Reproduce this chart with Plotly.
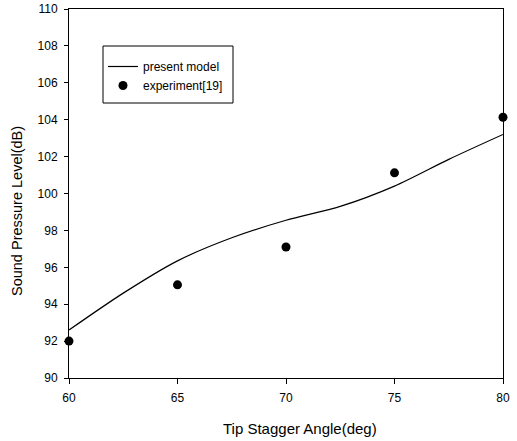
import plotly.graph_objects as go

# Data
model_angle = [60, 62.5, 65, 67.5, 70, 72.5, 75, 77.5, 80]
model_spl = [92.6, 94.6, 96.35, 97.6, 98.55, 99.3, 100.4, 101.85, 103.2]
exp_angle = [60, 65, 70, 75, 80]
exp_spl = [92.0, 95.05, 97.1, 101.12, 104.13]

x_ticks = [60, 65, 70, 75, 80]
y_ticks = [90, 92, 94, 96, 98, 100, 102, 104, 106, 108, 110]

FONT = "Liberation Sans, Arial, sans-serif"
W, H = 517, 441
L, R, T, B = 69, 14, 9, 63

fig = go.Figure()
fig.add_trace(go.Scatter(
    x=model_angle, y=model_spl, mode="lines", name="present model",
    line=dict(color="black", width=1.2, shape="spline", smoothing=0.8),
))
fig.add_trace(go.Scatter(
    x=exp_angle, y=exp_spl, mode="markers", name="experiment[19]",
    marker=dict(color="black", size=9, symbol="circle"),
    cliponaxis=False,
))

ph = H - T - B
pw = W - L - R


def px_x(p):
    return (p - L) / pw


def px_y(p):
    return (H - B - p) / ph


fig.update_layout(
    width=W, height=H,
    margin=dict(l=L, r=R, t=T, b=B, autoexpand=False),
    paper_bgcolor="white", plot_bgcolor="white",
    font=dict(family=FONT, size=12, color="black"),
    showlegend=True,
    legend=dict(
        x=px_x(103), y=px_y(52), xanchor="left", yanchor="top",
        bgcolor="rgba(0,0,0,0)", borderwidth=0,
        font=dict(family=FONT, size=12, color="black"),
    ),
    shapes=[
        dict(type="rect", xref="paper", yref="paper",
             x0=px_x(103), x1=px_x(233), y0=px_y(103), y1=px_y(46),
             line=dict(color="black", width=1), fillcolor="rgba(0,0,0,0)", layer="above"),
    ],
    xaxis=dict(
        range=[60, 80], tickvals=x_ticks, ticktext=[str(v) for v in x_ticks],
        showgrid=False, zeroline=False, automargin=False,
        showline=True, linecolor="black", linewidth=1, mirror=True,
        ticks="outside", ticklen=5, tickcolor="black",
        tickfont=dict(family=FONT, size=12), ticklabelstandoff=4,
    ),
    yaxis=dict(
        range=[90, 110], tickvals=y_ticks, ticktext=[str(v) for v in y_ticks],
        showgrid=False, zeroline=False, automargin=False,
        showline=True, linecolor="black", linewidth=1, mirror=True,
        ticks="outside", ticklen=4, tickcolor="black",
        tickfont=dict(family=FONT, size=12), ticklabelstandoff=4,
    ),
    annotations=[
        dict(text="Tip Stagger Angle(deg)", xref="paper", yref="paper",
             x=px_x(300), y=px_y(428), xanchor="center", yanchor="middle",
             showarrow=False, font=dict(family=FONT, size=15)),
        dict(text="Sound Pressure Level(dB)", xref="paper", yref="paper",
             x=px_x(17), y=px_y(211), xanchor="center", yanchor="middle",
             textangle=-90, showarrow=False, font=dict(family=FONT, size=14.5)),
    ],
)

fig.write_html("out.html")
